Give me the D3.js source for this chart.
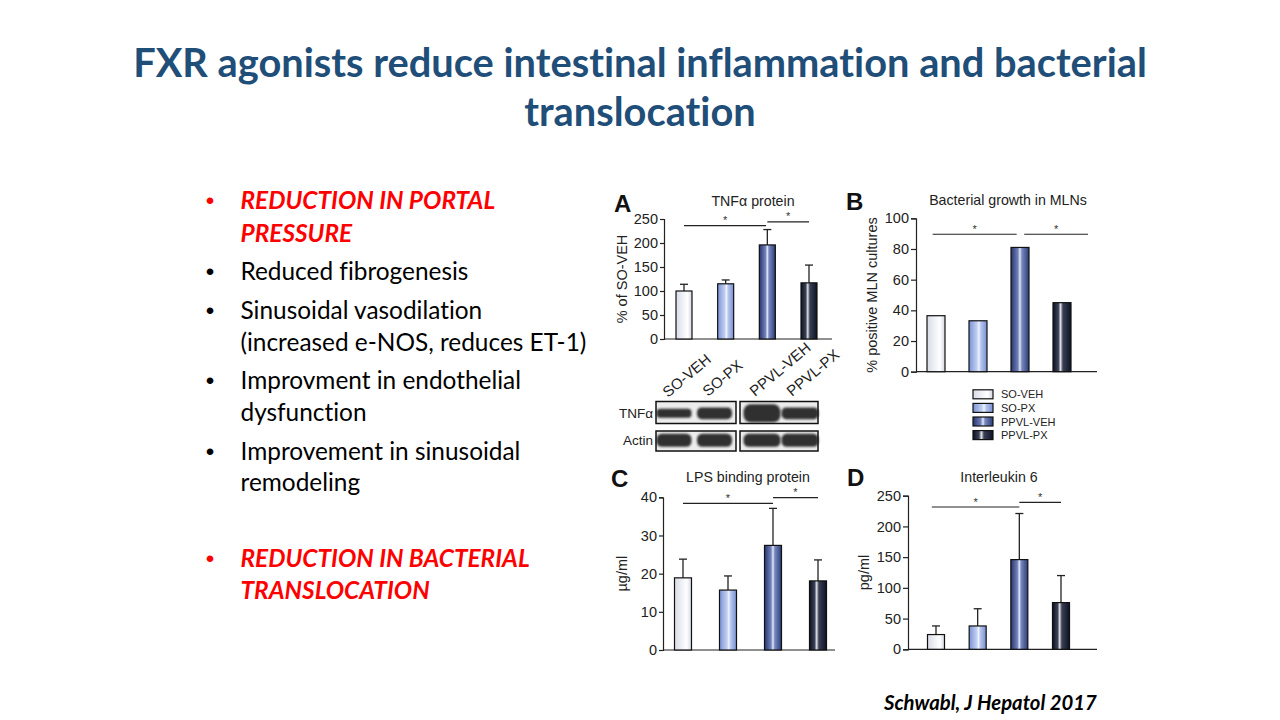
<!DOCTYPE html>
<html>
<head>
<meta charset="utf-8">
<script src="https://cdn.jsdelivr.net/npm/d3@7/dist/d3.min.js"></script>
<style>
  html, body { margin: 0; padding: 0; background: #fff; }
  svg { display: block; }
  text { font-variant-ligatures: none; }
</style>
</head>
<body>
<svg id="chart" width="1280" height="720"></svg>
<script>
// ---------------- DATA ----------------
const groups = ["SO-VEH", "SO-PX", "PPVL-VEH", "PPVL-PX"];

const titleLines = ["FXR agonists reduce intestinal inflammation and bacterial", "translocation"];

const bulletItems = [
  { lines: ["REDUCTION IN PORTAL", "PRESSURE"], emph: true },
  { lines: ["Reduced fibrogenesis"], emph: false },
  { lines: ["Sinusoidal vasodilation", "(increased e-NOS, reduces ET-1)"], emph: false },
  { lines: ["Improvment in endothelial", "dysfunction"], emph: false },
  { lines: ["Improvement in sinusoidal", "remodeling"], emph: false },
  { lines: ["REDUCTION IN BACTERIAL", "TRANSLOCATION"], emph: true }
];

const citation = "Schwabl, J Hepatol 2017";

// Panel A: TNFα protein (% of SO-VEH)
const tnfMean = [100, 115, 196, 117];
const tnfErr  = [114, 123, 228, 154];
const tnfTicks = [0, 50, 100, 150, 200, 250];
// Panel B: bacterial growth (% positive MLN cultures)
const mlnPct = [36.5, 33.2, 81, 45];
const mlnTicks = [0, 20, 40, 60, 80, 100];
// Panel C: LPS binding protein (µg/ml)
const lbpMean = [18.9, 15.7, 27.4, 18.1];
const lbpErr  = [23.8, 19.4, 37.1, 23.6];
const lbpTicks = [0, 10, 20, 30, 40];
// Panel D: Interleukin 6 (pg/ml)
const il6Mean = [24, 38, 146, 76];
const il6Err  = [38, 66, 221, 120];
const il6Ticks = [0, 50, 100, 150, 200, 250];

// significance brackets: [from index, to index, value]
const tnfSig = [[0, 1.97, 236], [2.0, 3.0, 244]];
const mlnSig = [[-0.08, 1.92, 89.6], [2.1, 3.62, 89.6]];
const lbpSig = [[0, 2.0, 38.4], [2.0, 3.0, 39.9]];
const il6Sig = [[-0.1, 2.0, 231.6], [2.0, 3.0, 239]];

// Western blot band strengths (relative)
const blotTNF   = [0.35, 0.55, 1.00, 0.55];
const blotActin = [0.65, 0.65, 0.65, 0.65];

// ---------------- DRAWING ----------------
const svg = d3.select("#chart");
svg.append("rect").attr("width", 1280).attr("height", 720).attr("fill", "#fff");

const defs = svg.append("defs");
const gradStops = [
  [[0, "#d9dce6"], [0.55, "#f6f7fb"], [0.72, "#ffffff"], [1, "#d3d6e2"]],
  [[0, "#7a93d4"], [0.45, "#c3d0f2"], [0.55, "#f0f4fe"], [0.65, "#b8c7ef"], [1, "#7890d2"]],
  [[0, "#27366c"], [0.38, "#6f7fb8"], [0.5, "#e4e8f6"], [0.6, "#7888c0"], [1, "#2c3c74"]],
  [[0, "#0c1022"], [0.3, "#3c4256"], [0.42, "#e0e0e6"], [0.55, "#3a4054"], [1, "#0e1226"]]
];
gradStops.forEach((stops, i) => {
  const g = defs.append("linearGradient").attr("id", "grad" + i)
    .attr("x1", "0%").attr("x2", "100%").attr("y1", "0%").attr("y2", "0%");
  stops.forEach(s => g.append("stop").attr("offset", s[0]).attr("stop-color", s[1]));
});
const blur = defs.append("filter").attr("id", "blur").attr("x", "-20%").attr("y", "-50%").attr("width", "140%").attr("height", "200%");
blur.append("feGaussianBlur").attr("stdDeviation", 1.3);

// Title
const titleFont = "Lato, 'Open Sans', sans-serif";
const titleG = svg.append("g");
const t1 = titleG.append("text").attr("x", 640).attr("y", 77).attr("text-anchor", "middle")
  .attr("font-family", titleFont).attr("font-weight", "bold").attr("font-size", 36)
  .attr("fill", "#1F4E79").text(titleLines[0]);
let w1 = t1.node().getComputedTextLength();
const titleSize = 36 * 1014 / w1;
t1.attr("font-size", titleSize);
titleG.append("text").attr("x", 640).attr("y", 126).attr("text-anchor", "middle")
  .attr("font-family", titleFont).attr("font-weight", "bold").attr("font-size", titleSize)
  .attr("fill", "#1F4E79").text(titleLines[1]);

// Bullets
const bulletFont = "Lato, 'Open Sans', sans-serif";
const probe = svg.append("text").attr("font-family", bulletFont).attr("font-size", 24)
  .text(bulletItems[2].lines[1]);
const bSize = 24 * 346 / probe.node().getComputedTextLength();
probe.remove();
const baselines = [[209, 241.5], [279.5], [318.5, 350.5], [388.5, 420.5], [459.5, 491], [566.5, 598.5]];
const bulletsG = svg.append("g");
bulletItems.forEach((item, i) => {
  const color = item.emph ? "#FF0000" : "#000";
  bulletsG.append("text").attr("x", 210).attr("y", baselines[i][0]).attr("text-anchor", "middle")
    .attr("font-family", "Arial, 'Liberation Sans', sans-serif").attr("font-size", bSize)
    .attr("fill", color).text("•");
  item.lines.forEach((ln, j) => {
    bulletsG.append("text").attr("x", 240.5).attr("y", baselines[i][j])
      .attr("font-family", bulletFont).attr("font-size", bSize)
      .attr("font-weight", item.emph ? "bold" : "normal")
      .attr("font-style", item.emph ? "italic" : "normal")
      .attr("fill", color).text(ln);
  });
});

// Citation
const cit = svg.append("text").attr("x", 884).attr("y", 710)
  .attr("font-family", bulletFont).attr("font-weight", "bold").attr("font-style", "italic")
  .attr("font-size", 18).attr("fill", "#000").text(citation);
cit.attr("font-size", 18 * 213 / cit.node().getComputedTextLength());

// Panels
const chartFont = "Arial, 'Liberation Sans', sans-serif";
function panel(cfg) {
  const g = svg.append("g");
  const y = d3.scaleLinear().domain([0, cfg.ticks[cfg.ticks.length - 1]]).range([cfg.y0, cfg.y1]);
  const x = d3.scalePoint().domain(groups).range([cfg.xFirst, cfg.xLast]);
  const xi = d3.scaleLinear().domain([0, 3]).range([cfg.xFirst, cfg.xLast]);

  // y axis
  const ax = g.append("g").attr("transform", `translate(${cfg.axisX},0)`)
    .call(d3.axisLeft(y).tickValues(cfg.ticks).tickSize(cfg.tickSize).tickPadding(2).tickFormat(d3.format("d")));
  ax.select(".domain").attr("stroke", "#222").attr("stroke-width", 1.2);
  ax.selectAll(".tick line").attr("stroke", "#222").attr("stroke-width", 1.2);
  ax.selectAll(".tick text").attr("font-family", chartFont).attr("font-size", 14.5).attr("fill", "#222");
  // baseline
  g.append("line").attr("x1", cfg.axisX).attr("x2", cfg.axisEnd).attr("y1", y(0)).attr("y2", y(0))
    .attr("stroke", "#222").attr("stroke-width", 1.2);

  // error bars
  if (cfg.err) {
    cfg.err.forEach((e, i) => {
      const cx = x(groups[i]);
      g.append("line").attr("x1", cx).attr("x2", cx).attr("y1", y(cfg.values[i])).attr("y2", y(e))
        .attr("stroke", "#222").attr("stroke-width", 1.3);
      g.append("line").attr("x1", cx - 4).attr("x2", cx + 4).attr("y1", y(e)).attr("y2", y(e))
        .attr("stroke", "#222").attr("stroke-width", 1.3);
    });
  }
  // bars
  g.selectAll("rect.bar").data(cfg.values).join("rect").attr("class", "bar")
    .attr("x", (d, i) => x(groups[i]) - cfg.barW / 2)
    .attr("width", cfg.barW)
    .attr("y", d => y(d))
    .attr("height", d => y(0) - y(d))
    .attr("fill", (d, i) => `url(#grad${i})`)
    .attr("stroke", "#111").attr("stroke-width", 1.2);

  // significance
  cfg.sig.forEach(s => {
    const yy = y(s[2]);
    g.append("line").attr("x1", xi(s[0])).attr("x2", xi(s[1])).attr("y1", yy).attr("y2", yy)
      .attr("stroke", "#222").attr("stroke-width", 1.2);
    g.append("text").attr("x", (xi(s[0]) + xi(s[1])) / 2).attr("y", yy - 1.5).attr("text-anchor", "middle")
      .attr("font-family", chartFont).attr("font-size", 11).attr("fill", "#333").text("*");
  });

  // title
  g.append("text").attr("x", cfg.titleX).attr("y", cfg.titleY).attr("text-anchor", "middle")
    .attr("font-family", chartFont).attr("font-size", 14.2).attr("fill", "#222").text(cfg.title);
  // letter
  g.append("text").attr("x", cfg.letterX).attr("y", cfg.letterY)
    .attr("font-family", chartFont).attr("font-weight", "bold").attr("font-size", 24).attr("fill", "#111").text(cfg.letter);
  // y label
  const ly = (cfg.y0 + cfg.y1) / 2;
  g.append("text").attr("transform", `translate(${cfg.labelX},${ly}) rotate(-90)`)
    .attr("text-anchor", "middle").attr("dominant-baseline", "central")
    .attr("font-family", chartFont).attr("font-size", 14.5).attr("fill", "#222").text(cfg.ylabel);
}

panel({ values: tnfMean, err: tnfErr, ticks: tnfTicks, sig: tnfSig, y0: 339, y1: 219,
  axisX: 664, axisEnd: 832, xFirst: 684, xLast: 809, barW: 16, tickSize: 4,
  title: "TNFα protein", titleX: 753, titleY: 206, letter: "A", letterX: 614, letterY: 212,
  ylabel: "% of SO-VEH", labelX: 622 });
panel({ values: mlnPct, err: null, ticks: mlnTicks, sig: mlnSig, y0: 371.7, y1: 218.3,
  axisX: 916, axisEnd: 1097, xFirst: 936, xLast: 1062, barW: 18, tickSize: 5,
  title: "Bacterial growth in MLNs", titleX: 1008, titleY: 205, letter: "B", letterX: 846, letterY: 210,
  ylabel: "% positive MLN cultures", labelX: 872 });
panel({ values: lbpMean, err: lbpErr, ticks: lbpTicks, sig: lbpSig, y0: 650, y1: 497.3,
  axisX: 663, axisEnd: 835, xFirst: 683, xLast: 818, barW: 17, tickSize: 4,
  title: "LPS binding protein", titleX: 748, titleY: 482, letter: "C", letterX: 611, letterY: 487,
  ylabel: "µg/ml", labelX: 622 });
panel({ values: il6Mean, err: il6Err, ticks: il6Ticks, sig: il6Sig, y0: 649.3, y1: 495.7,
  axisX: 908, axisEnd: 1097, xFirst: 936, xLast: 1061, barW: 17, tickSize: 5,
  title: "Interleukin 6", titleX: 999, titleY: 482, letter: "D", letterX: 847, letterY: 486,
  ylabel: "pg/ml", labelX: 864 });

// Legend
const leg = svg.append("g");
groups.forEach((gname, i) => {
  const yy = 394.3 + i * 13.6;
  leg.append("rect").attr("x", 973).attr("y", yy - 4.5).attr("width", 20).attr("height", 9)
    .attr("fill", `url(#grad${i})`).attr("stroke", "#111").attr("stroke-width", 1.2);
  leg.append("text").attr("x", 1001).attr("y", yy).attr("dominant-baseline", "central")
    .attr("font-family", chartFont).attr("font-size", 11).attr("fill", "#222").text(gname);
});

// Western blot
const blot = svg.append("g");
const laneCenters = [674, 714.5, 762, 800];
const boxes = [[656, 736], [740, 818]];
const rows = [{ name: "TNFα", y0: 401.5, y1: 423.5, vals: blotTNF, cy: 413.3 },
              { name: "Actin", y0: 431, y1: 451, vals: blotActin, cy: 440.3 }];
rows.forEach(r => {
  boxes.forEach(b => {
    blot.append("rect").attr("x", b[0]).attr("y", r.y0).attr("width", b[1] - b[0]).attr("height", r.y1 - r.y0)
      .attr("fill", "#ececec");
  });
  r.vals.forEach((v, i) => {
    const bw = i < 2 ? 35 : 37;
    const h = 4 + v * 14;
    blot.append("rect").attr("x", laneCenters[i] - bw / 2).attr("y", r.cy - h / 2)
      .attr("width", bw).attr("height", h).attr("rx", h / 2.5)
      .attr("fill", "#1e1e1e").attr("opacity", 0.9).attr("filter", "url(#blur)");
  });
  boxes.forEach(b => {
    blot.append("rect").attr("x", b[0]).attr("y", r.y0).attr("width", b[1] - b[0]).attr("height", r.y1 - r.y0)
      .attr("fill", "none").attr("stroke", "#111").attr("stroke-width", 1.5);
  });
  blot.append("text").attr("x", 653).attr("y", r.cy).attr("text-anchor", "end").attr("dominant-baseline", "central")
    .attr("font-family", chartFont).attr("font-size", 13.5).attr("fill", "#222").text(r.name);
});
const labelStarts = [[668, 398], [708, 397], [755, 397], [792, 397]];
groups.forEach((gname, i) => {
  blot.append("text").attr("transform", `translate(${labelStarts[i][0]},${labelStarts[i][1]}) rotate(-40)`)
    .attr("font-family", chartFont).attr("font-size", 15).attr("fill", "#222").text(gname);
});
</script>
</body>
</html>
